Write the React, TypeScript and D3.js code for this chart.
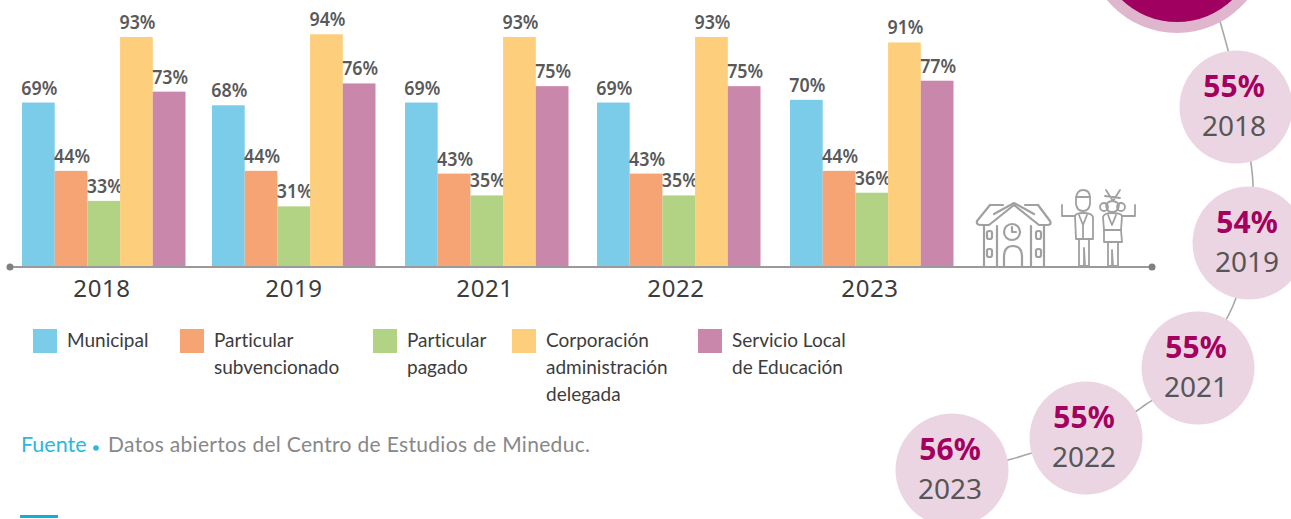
import React from 'react';
import * as d3 from 'd3';

const years = ['2018', '2019', '2021', '2022', '2023'];
const seriesNames = ['Municipal', 'Particular subvencionado', 'Particular pagado', 'Corporación administración delegada', 'Servicio Local de Educación'];
const municipal = [69, 68, 69, 69, 70];
const subvencionado = [44, 44, 43, 43, 44];
const pagado = [33, 31, 35, 35, 36];
const corporacion = [93, 94, 93, 93, 91];
const servicioLocal = [73, 76, 75, 75, 77];
const allSeries = [municipal, subvencionado, pagado, corporacion, servicioLocal];
const colors = ['#7ACCE8', '#F6A473', '#B3D384', '#FDCE7B', '#C987AB'];

const legendLines = [
    ['Municipal'],
    ['Particular', 'subvencionado'],
    ['Particular', 'pagado'],
    ['Corporación', 'administración', 'delegada'],
    ['Servicio Local', 'de Educación'],
];

const bubbleYears = ['2018', '2019', '2021', '2022', '2023'];
const bubbleValues = [55, 54, 55, 55, 56];

const width = 1291;
const height = 519;
const baseline = 267;
const labelFont = '"Noto Sans", sans-serif';

// the bars in the source don't start at zero height, the axis is cut a bit
const y = d3.scaleLinear().domain([8.8, 93]).range([baseline, 37]);
const groupX = d3.scaleOrdinal<string, number>().domain(years).range([22, 212, 405, 597, 790]);
const yearX = d3.scaleOrdinal<string, number>().domain(years).range([102, 294, 485, 676, 870]);
const inner = d3.scaleBand<number>().domain([0, 1, 2, 3, 4]).range([0, 163.5]);

const legendX = d3.scaleOrdinal<number, number>().domain([0, 1, 2, 3, 4]).range([33, 180, 373, 512, 698]);

const bubbleCx = d3.scaleOrdinal<string, number>().domain(bubbleYears).range([1236, 1249, 1198, 1086, 952]);
const bubbleCy = d3.scaleOrdinal<string, number>().domain(bubbleYears).range([107, 243, 368, 438, 470]);

// the line is hidden under the bubbles, only the short bits between them show
const connector = d3.line<[number, number]>().curve(d3.curveCatmullRom.alpha(0.5));
const connectorPoints: [number, number][] = [
    [1205, -30], [1228, 50], [1242, 107], [1251, 163], [1253, 187], [1248, 243],
    [1236, 298], [1227, 318], [1198, 368], [1145, 405], [1135, 412], [1086, 438],
    [1035, 452], [1008, 460], [952, 470],
];

const School = () => (
    <g fill="none" stroke="#a0a0a0" strokeWidth={2.2} strokeLinejoin="round" strokeLinecap="round">
        <path d="M984 226 L984 266 M1044 226 L1044 266 M997 266 L997 226 M1031 266 L1031 226" />
        <path d="M990 205 L1003 205 M1025 205 L1038 205 M990 205 L977 221 Q976 225 981 225 L989 225 L1014 205 L1039 225 L1047 225 Q1052 225 1050 221 L1038 205" />
        <path d="M994 214 L1014 203 L1034 214" />
        <circle cx={1012} cy={232} r={8} />
        <path d="M1012 227 L1012 232 L1016 232" />
        <path d="M1004 266 L1004 257 Q1004 246 1013 246 Q1022 246 1022 257 L1022 266" />
        <rect x={987} y={231} width={5} height={8} rx={2} />
        <rect x={987} y={249} width={5} height={8} rx={2} />
        <rect x={1036} y={231} width={5} height={8} rx={2} />
        <rect x={1036} y={249} width={5} height={8} rx={2} />
    </g>
);

const People = () => (
    <g fill="none" stroke="#a0a0a0" strokeWidth={1.8} strokeLinejoin="round" strokeLinecap="round">
        <path d="M1076 198 Q1077 190 1083 190 Q1090 190 1090 198 L1090 204 Q1089 211 1083 211 Q1077 211 1076 204 Z" />
        <path d="M1076 197 L1090 197" />
        <path d="M1062 205 L1062 216 L1075 216 Q1076 213 1083 213 Q1092 213 1093 217 L1093 239 L1076 239 L1075 216" />
        <path d="M1079 215 L1083 225 L1087 215 M1083 225 L1083 239" />
        <path d="M1079 239 L1079 266 L1084 266 L1084 248 L1085 266 L1089 266 L1089 239" />
        <path d="M1113 201 L1106 190 M1113 201 L1120 190 M1105 196 L1120 198" />
        <circle cx={1104} cy={207} r={4} />
        <circle cx={1121} cy={207} r={4} />
        <path d="M1106 204 Q1112 198 1119 204 Q1119 212 1112 212 Q1106 212 1106 204 Z" />
        <path d="M1103 217 Q1104 213 1112 213 Q1121 213 1122 216 L1135 216 L1135 205 M1103 217 L1104 230 L1121 230 L1122 216" />
        <path d="M1108 215 L1112 225 L1116 215" />
        <path d="M1104 230 L1104 242 L1122 242 L1121 230" />
        <path d="M1108 242 L1108 266 L1112 266 L1112 250 L1113 266 L1118 266 L1118 242" />
    </g>
);

const App = () => (
    <svg width={width} height={height} style={{ position: 'absolute', left: 0, top: 0, display: 'block', background: '#fff' }}>
        {/* bars */}
        {years.map((yr, i) => (
            <g key={yr} transform={`translate(${groupX(yr)},0)`}>
                {allSeries.map((vals, s) => (
                    <g key={seriesNames[s]}>
                        <rect x={inner(s)} y={y(vals[i])} width={inner.bandwidth()} height={baseline - y(vals[i])} fill={colors[s]} />
                        <text
                            x={inner(s)! + inner.bandwidth() / 2 + 1}
                            y={y(vals[i]) - 8}
                            textAnchor="middle"
                            fontFamily={labelFont}
                            fontWeight={600}
                            fontSize={20}
                            textLength={36}
                            lengthAdjust="spacingAndGlyphs"
                            fill="#595959"
                        >
                            {vals[i]}%
                        </text>
                    </g>
                ))}
            </g>
        ))}

        {/* axis line */}
        <line x1={10} x2={1152} y1={baseline} y2={baseline} stroke="#9a9a9a" strokeWidth={2} />
        <circle cx={10} cy={baseline} r={3.5} fill="#808080" />
        <circle cx={1152} cy={baseline} r={3.5} fill="#808080" />
        {years.map((yr) => (
            <text key={yr} x={yearX(yr)} y={297} textAnchor="middle" fontFamily={labelFont} fontSize={24} letterSpacing={0.6} fill="#3c3c3c">
                {yr}
            </text>
        ))}

        <School />
        <People />

        {/* legend */}
        {legendLines.map((lines, i) => (
            <g key={i}>
                <rect x={legendX(i)} y={329} width={24} height={24} fill={colors[i]} />
                {lines.map((line, j) => (
                    <text key={line} x={legendX(i) + 34} y={347 + j * 27} fontFamily='Lato, sans-serif' fontSize={19} fill="#3c3c3c" style={{ fontVariantLigatures: 'none' }}>
                        {line}
                    </text>
                ))}
            </g>
        ))}

        {/* source */}
        <text x={21} y={452} fontFamily='Lato, sans-serif' fontSize={21.5} fill="#2BB8DC" style={{ fontVariantLigatures: 'none' }}>
            Fuente
        </text>
        <circle cx={96} cy={448} r={2.8} fill="#2BB8DC" />
        <text x={108} y={452} fontFamily='Lato, sans-serif' fontSize={21} fill="#888888" textLength={482} lengthAdjust="spacing" style={{ fontVariantLigatures: 'none' }}>
            Datos abiertos del Centro de Estudios de Mineduc.
        </text>
        <rect x={20} y={515} width={38} height={3} fill="#12AED8" />

        {/* bubbles */}
        <path d={connector(connectorPoints) ?? ''} fill="none" stroke="#a8a8a8" strokeWidth={1.6} />
        <circle cx={1177} cy={-58} r={91} fill="#E0B6CF" />
        <circle cx={1177} cy={-58} r={80} fill="#A0005F" />
        {bubbleYears.map((b, i) => (
            <g key={b}>
                <circle cx={bubbleCx(b)} cy={bubbleCy(b)} r={56.5} fill="#ECD5E2" />
                <text x={bubbleCx(b) - 2} y={bubbleCy(b) - 10} textAnchor="middle" fontFamily={labelFont} fontWeight={700} fontSize={30} fill="#A3005F">
                    {bubbleValues[i]}%
                </text>
                <text x={bubbleCx(b) - 2} y={bubbleCy(b) + 29} textAnchor="middle" fontFamily={labelFont} fontSize={28} fill="#565656">
                    {b}
                </text>
            </g>
        ))}
    </svg>
);

export default App;
